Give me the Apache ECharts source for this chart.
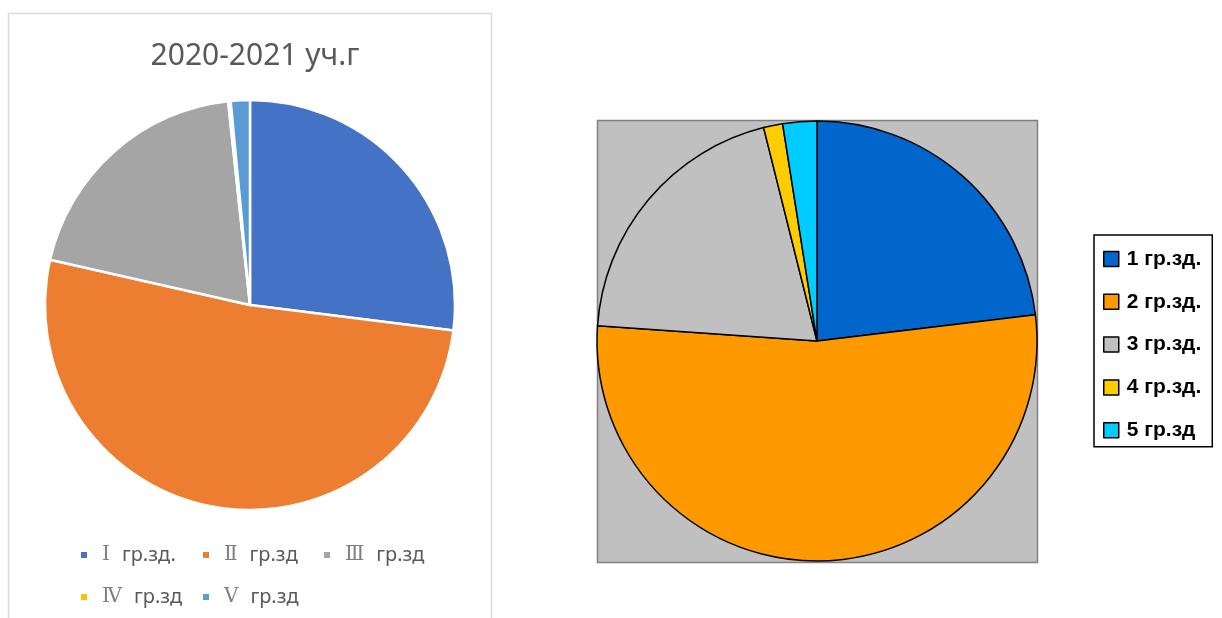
<!DOCTYPE html>
<html><head><meta charset="utf-8">
<script src="https://cdn.jsdelivr.net/npm/echarts@6/dist/echarts.min.js"></script>
<style>html,body{margin:0;padding:0;background:#fff}#c{width:1222px;height:618px}</style>
</head><body><div id="c"></div>
<script>
const leftTitle = '2020-2021 уч.г';
const leftNumerals = ['Ⅰ', 'Ⅱ', 'Ⅲ', 'Ⅳ', 'Ⅴ'];
const leftNames = ['Ⅰ гр.зд.', 'Ⅱ гр.зд', 'Ⅲ гр.зд', 'Ⅳ гр.зд', 'Ⅴ гр.зд'];
const leftValues = [26.9, 51.4, 19.7, 0.2, 1.5];
const leftColors = ['#4472C4', '#ED7D31', '#A5A5A5', '#FFC000', '#5B9BD5'];
const rightNames = ['1 гр.зд.', '2 гр.зд.', '3 гр.зд.', '4 гр.зд.', '5 гр.зд'];
const rightValues = [23.1, 53.0, 20.0, 1.4, 2.5];
const rightColors = ['#0066CC', '#FF9900', '#C0C0C0', '#FFCC00', '#00CCFF'];

const chart = echarts.init(document.getElementById('c'));
const leftLegendPos = [[79,545],[201,545],[322,545],[79,587],[201,587]];
const leftLegends = leftNames.map((n, i) => ({
  data: [n], left: leftLegendPos[i][0], top: leftLegendPos[i][1],
  icon: 'rect', itemWidth: 8, itemHeight: 8, itemGap: 0, padding: 0,
  selectedMode: false,
  formatter: function (name) {
    const k = leftNames.indexOf(name);
    return '{r|' + leftNumerals[k] + '}{t|' + name.slice(2) + '}';
  },
  textStyle: {
    color: '#595959', fontSize: 20, fontFamily: 'Noto Sans, sans-serif', padding: [0,0,0,4],
    rich: {
      r: { color: '#7F7F7F', fontSize: 20, fontFamily: 'DejaVu Serif, Noto Sans CJK JP', padding: [0, 12, 0, 5] },
      t: { color: '#595959', fontSize: 20, fontFamily: 'Noto Sans, sans-serif' }
    }
  }
}));
chart.setOption({
  animation: false,
  title: { text: leftTitle, left: 250, textAlign: 'center', top: 36,
    textStyle: { color: '#595959', fontSize: 30, fontWeight: 'normal', fontFamily: 'Noto Sans, sans-serif' } },
  graphic: [
    { type: 'rect', shape: { x: 8.5, y: 13.5, width: 483, height: 620 }, style: { fill: 'none', stroke: '#D9D9D9', lineWidth: 1.5 }, z: -10 },
    { type: 'rect', shape: { x: 597.5, y: 120.5, width: 440, height: 442 }, style: { fill: '#C0C0C0', stroke: '#808080', lineWidth: 1.5 }, z: -10 }
  ],
  legend: leftLegends.concat([{
    data: rightNames, orient: 'vertical', left: 1094, top: 235,
    icon: 'rect', itemWidth: 15, itemHeight: 15, itemGap: 21.8,
    padding: [13.5, 11, 6, 9], borderColor: '#000', borderWidth: 1.5,
    selectedMode: false,
    itemStyle: { borderColor: '#000', borderWidth: 1.5 },
    textStyle: { color: '#000', fontSize: 21, lineHeight: 15, fontWeight: 'bold', fontFamily: 'Liberation Sans, sans-serif', padding: [0,0,0,3] }
  }]),
  series: [
    {
      type: 'pie', center: [250, 305], radius: 205, startAngle: 90, clockwise: true,
      label: { show: false }, labelLine: { show: false }, silent: true,
      itemStyle: { borderColor: '#fff', borderWidth: 2.5 },
      data: leftNames.map((n, i) => ({ name: n, value: leftValues[i], itemStyle: { color: leftColors[i] } }))
    },
    {
      type: 'pie', center: [817, 341], radius: 220, startAngle: 90, clockwise: true,
      label: { show: false }, labelLine: { show: false }, silent: true,
      itemStyle: { borderColor: '#000', borderWidth: 1.5 },
      data: rightNames.map((n, i) => ({ name: n, value: rightValues[i], itemStyle: { color: rightColors[i] } }))
    }
  ]
});
</script></body></html>
